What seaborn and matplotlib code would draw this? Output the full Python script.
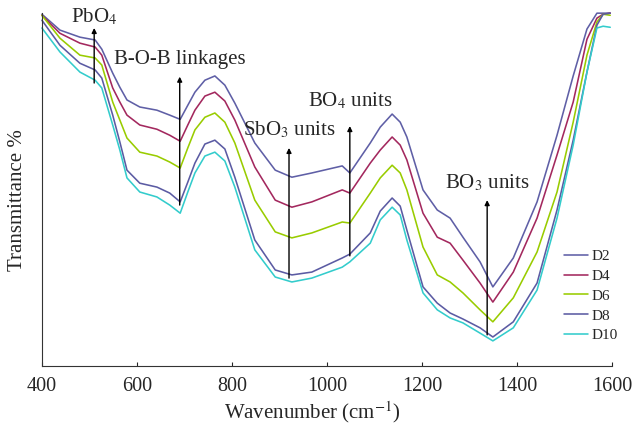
import pandas as pd
import matplotlib.pyplot as plt
import seaborn as sns

# Wavenumber (cm-1), shared by all series
wavenumber = [400, 438, 480, 512, 526, 549, 564, 579, 606, 642, 669, 691, 707, 722, 743,
              764, 785, 806, 848, 891, 926, 968, 1032, 1048, 1091, 1112, 1137, 1154, 1168,
              1202, 1232, 1259, 1286, 1322, 1349, 1392, 1442, 1484, 1518, 1547, 1568,
              1581, 1596]

# Transmittance % per sample
d2 = [99.7, 95.2, 93.2, 92.4, 89.8, 83.0, 79.0, 75.4, 73.4, 72.5, 71.1, 69.9, 73.9, 77.6,
      81.0, 82.2, 79.6, 74.5, 63.2, 55.5, 53.5, 54.7, 56.7, 54.7, 63.2, 67.7, 71.4, 69.1,
      64.9, 49.9, 44.2, 41.9, 36.5, 29.5, 22.4, 30.6, 46.5, 65.4, 82.2, 95.5, 100, 100, 100]
d4 = [99.4, 94.3, 91.5, 90.4, 88.1, 78.8, 74.8, 71.1, 68.3, 67.1, 65.4, 63.7, 68.3, 72.5,
      76.5, 77.6, 75.1, 69.7, 56.4, 47.0, 45.0, 46.5, 49.9, 49.0, 57.5, 61.2, 64.9, 62.6,
      58.4, 43.3, 36.5, 34.8, 30.0, 23.5, 18.1, 26.6, 41.9, 59.8, 74.8, 92.6, 98.6, 99.7, 100]
d6 = [99.4, 92.9, 88.1, 87.3, 85.3, 74.8, 69.7, 64.6, 60.6, 59.5, 57.8, 56.1, 61.8, 66.9,
      70.5, 71.7, 69.1, 63.2, 47.0, 38.0, 36.3, 37.7, 40.8, 40.5, 49.0, 53.3, 56.9, 54.7,
      49.9, 33.7, 25.8, 23.8, 20.7, 15.9, 12.5, 19.3, 32.3, 49.3, 69.1, 88.1, 97.5, 99.7, 99.4]
d8 = [98.0, 90.9, 85.8, 83.9, 81.6, 71.1, 63.5, 55.5, 51.8, 50.7, 49.0, 46.5, 52.1, 57.5,
      62.9, 64.0, 61.5, 53.5, 35.7, 27.2, 25.8, 26.6, 30.6, 31.7, 37.7, 43.9, 47.6, 45.3,
      38.5, 22.4, 17.8, 15.0, 13.3, 10.8, 8.2, 12.5, 23.5, 44.2, 64.0, 83.3, 96.6, 99.7, 100]
d10 = [95.8, 89.0, 83.3, 81.0, 78.8, 68.3, 61.2, 53.3, 49.3, 47.9, 45.6, 43.3, 49.3, 54.7,
       59.5, 60.6, 58.1, 50.7, 32.9, 25.2, 23.8, 24.9, 28.0, 29.5, 34.8, 41.4, 45.0, 42.8,
       35.7, 20.7, 15.9, 13.6, 12.2, 9.3, 7.1, 10.8, 21.5, 41.9, 62.6, 83.3, 95.8, 96.3, 96.0]

samples = ['D2', 'D4', 'D6', 'D8', 'D10']
colors = ['#5f5fa6', '#a3285e', '#99cc00', '#5b5ba3', '#33cccc']

# band assignments: (label, wavenumber, arrow bottom, arrow top, label y)
bands = [
    ('PbO$_4$', 510, 80.2, 95.8, 99.0),
    ('B-O-B linkages', 690, 45.6, 82.0, 87.0),
    ('SbO$_3$ units', 920, 24.9, 61.8, 67.0),
    ('BO$_4$ units', 1048, 31.2, 68.0, 75.0),
    ('BO$_3$ units', 1337, 8.8, 47.0, 52.0),
]

df = pd.DataFrame({'Wavenumber': wavenumber * 5,
                   'T': d2 + d4 + d6 + d8 + d10,
                   'Sample': [s for s in samples for _ in wavenumber]})

sns.set_style('ticks')
plt.rcParams['font.family'] = ['Liberation Serif', 'DejaVu Serif']
plt.rcParams['mathtext.fontset'] = 'stix'

fig = plt.figure(figsize=(6.35, 4.25), dpi=100)
ax = fig.add_axes([0.066, 0.139, 0.898, 0.83])
sns.lineplot(data=df, x='Wavenumber', y='T', hue='Sample', palette=colors,
             linewidth=1.15, ax=ax, legend=True, clip_on=False)

for label, w, lo, hi, ty in bands:
    ax.annotate('', xy=(w, hi), xytext=(w, lo),
                arrowprops=dict(arrowstyle='-|>', color='black', lw=1.0,
                                mutation_scale=7, shrinkA=0, shrinkB=0))
    ax.text(w, ty, label, ha='center', va='center', fontsize=15)

ax.set_xlim(400, 1600)
ax.set_ylim(0, 100)
ax.set_xticks([400, 600, 800, 1000, 1200, 1400, 1600])
ax.set_yticks([])
ax.tick_params(axis='x', direction='in', length=3, labelsize=14.5, pad=8)
ax.set_xlabel('Wavenumber (cm$^{-1}$)', fontsize=15)
ax.set_ylabel('Transmittance %', fontsize=15)
ax.xaxis.set_label_coords(0.475, -0.094)
ax.yaxis.set_label_coords(-0.027, 0.47)
sns.despine(ax=ax)
for side in ['left', 'bottom']:
    ax.spines[side].set_color('#333333')

ax.legend(loc='upper left', bbox_to_anchor=(0.915, 0.33), frameon=False,
          fontsize=11, handlelength=1.6, handletextpad=0.2, labelspacing=0.4,
          borderpad=0, borderaxespad=0)

plt.savefig('out.png', dpi=100)
plt.close()
